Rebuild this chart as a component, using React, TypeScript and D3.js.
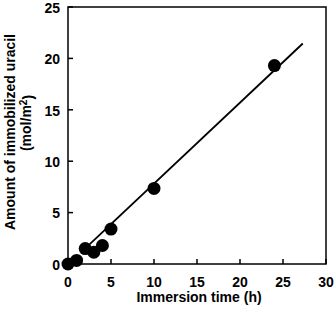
import React from "react";
import * as d3 from "d3";

const times = [0, 1, 2, 3, 4, 5, 10, 24];
const amounts = [0, 0.35, 1.5, 1.15, 1.8, 3.4, 7.35, 19.3];
const fitX = [2.5, 27.3];
const fitY = [1.9, 21.45];
const xTicks = [0, 5, 10, 15, 20, 25, 30];
const yTicks = [0, 5, 10, 15, 20, 25];

const W = 336, H = 310;
const left = 68, right = 326, top = 7, bottom = 264;

export default function App() {
  const x = d3.scaleLinear().domain([0, 30]).range([left, right]);
  const y = d3.scaleLinear().domain([0, 25]).range([bottom, top]);
  const line = d3.line<number>().x((d) => x(fitX[d])).y((d) => y(fitY[d]));
  const font = "Liberation Sans, Arial, sans-serif";
  return (
    <svg width={W} height={H} style={{ position: "absolute", left: 0, top: 0 }} fontFamily={font}>
      <rect width={W} height={H} fill="#fff" />
      <rect x={left} y={top} width={right - left} height={bottom - top} fill="none" stroke="#000" strokeWidth={1.5} />
      {yTicks.map((t) => (
        <g key={"y" + t}>
          <line x1={left} x2={left + 5} y1={y(t)} y2={y(t)} stroke="#000" strokeWidth={1.5} />
          <text x={left - 8} y={y(t) + 5.8} textAnchor="end" fontSize={14} fontWeight="bold">{t}</text>
        </g>
      ))}
      {xTicks.map((t) => (
        <g key={"x" + t}>
          <line x1={x(t)} x2={x(t)} y1={bottom} y2={bottom - 5} stroke="#000" strokeWidth={1.5} />
          <text x={x(t)} y={bottom + 23} textAnchor="middle" fontSize={14} fontWeight="bold">{t}</text>
        </g>
      ))}
      <path d={line([0, 1]) || ""} stroke="#000" strokeWidth={1.8} fill="none" />
      {times.map((t, i) => (
        <circle key={i} cx={x(t)} cy={y(amounts[i])} r={6.5} fill="#000" />
      ))}
      <text x={199} y={302} textAnchor="middle" fontSize={14} fontWeight="bold">Immersion time (h)</text>
      <g transform={`translate(9.5,132) rotate(-90)`}>
        <text x={0} y={0} dy="0.36em" textAnchor="middle" fontSize={14} fontWeight="bold">Amount of immobilized uracil</text>
      </g>
      <g transform={`translate(26,123) rotate(-90)`}>
        <text x={0} y={0} dy="0.36em" textAnchor="middle" fontSize={14} fontWeight="bold">
          (mol/m<tspan dy="-0.45em" fontSize={10}>2</tspan><tspan dy="0.45em">)</tspan>
        </text>
      </g>
    </svg>
  );
}
